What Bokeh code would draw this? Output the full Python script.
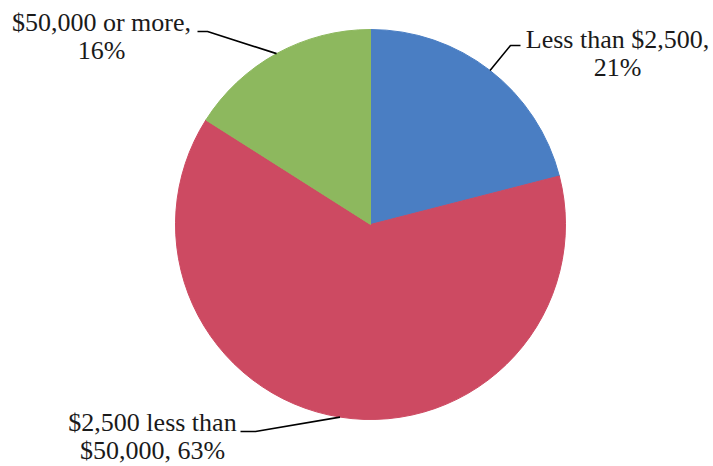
import math

from bokeh.core.properties import value
from bokeh.embed import file_html
from bokeh.models import ColumnDataSource, Range1d
from bokeh.plotting import figure
from bokeh.resources import INLINE

# Distribution of amounts, in percent
categories = ["Less than $2,500", "$2,500 less than $50,000", "$50,000 or more"]
shares = [21, 63, 16]
colors = ["#4a7ec3", "#cd4a62", "#8db85e"]
words_on_first_line = [3, 3, 3]

W, H = 713, 466
CX, CY, R = 370, H - 224, 195

# Label anchor (centre x, first-line baseline, in screen pixels) and the
# elbow points of each leader line, from the label towards the pie rim.
label_anchor = [(617, 39), (152, 422), (101, 22)]
leader_elbows = [[(520, 45), (510, 45)], [(240, 431), (255, 431)], [(197, 31), (207, 31)]]
LINE_GAP = 28

p = figure(width=W, height=H, output_backend="svg", toolbar_location=None,
           x_range=Range1d(0, W), y_range=Range1d(0, H), min_border=0,
           x_axis_location=None, y_axis_location=None)
p.grid.visible = False
p.outline_line_color = None
p.background_fill_color = "white"
p.border_fill_color = "white"

# Slices run clockwise from 12 o'clock
total = sum(shares)
starts, ends, mids = [], [], []
a = math.pi / 2
for s in shares:
    sweep = 2 * math.pi * s / total
    starts.append(a - sweep)
    ends.append(a)
    mids.append(a - sweep / 2)
    a -= sweep

src = ColumnDataSource(dict(start=starts, end=ends, color=colors))
p.wedge(x=CX, y=CY, radius=R, start_angle="start", end_angle="end",
        fill_color="color", line_color="color", line_width=1, source=src)

# Leader lines: label -> elbow -> rim at the slice's mid-angle
for mid, elbows in zip(mids, leader_elbows):
    xs = [ex for ex, ey in elbows] + [CX + R * math.cos(mid)]
    ys = [H - ey for ex, ey in elbows] + [CY + R * math.sin(mid)]
    p.line(xs, ys, line_color="black", line_width=1.6)

# Two-line labels: "<category>, <share>%"
tx, ty, tt = [], [], []
for cat, s, n, (ax, ay) in zip(categories, shares, words_on_first_line, label_anchor):
    words = f"{cat}, {s}%".split(" ")
    lines = [" ".join(words[:n]), " ".join(words[n:])]
    for i, line in enumerate(lines):
        tx.append(ax)
        ty.append(H - (ay + i * LINE_GAP))
        tt.append(line)

p.text(x=tx, y=ty, text=tt, text_font=value("Liberation Serif"),
       text_font_size="26px", text_align="center", text_baseline="alphabetic",
       text_color="#1a1a1a")

open("out.html", "w").write(file_html(p, INLINE))
